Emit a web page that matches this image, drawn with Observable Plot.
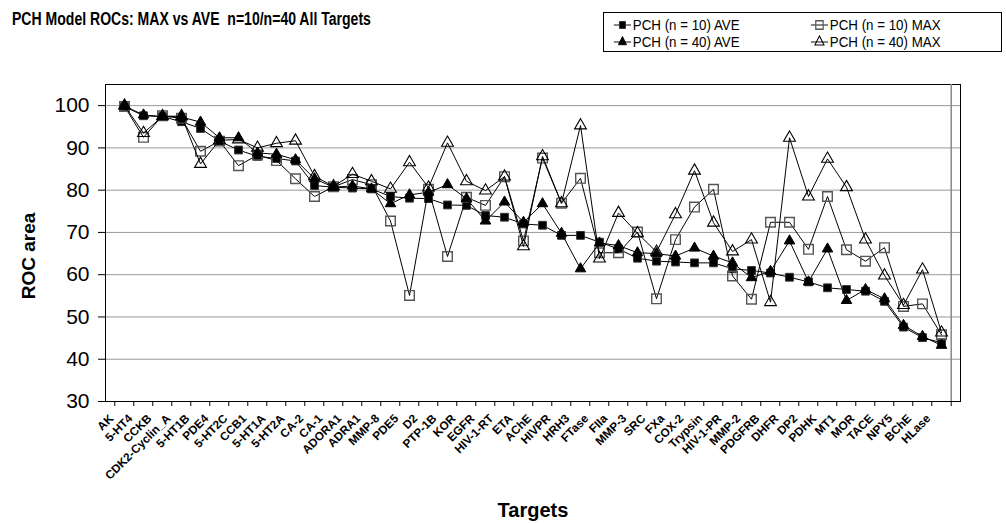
<!DOCTYPE html>
<html><head><meta charset="utf-8">
<script src="https://cdn.jsdelivr.net/npm/d3@7"></script>
<script src="https://cdn.jsdelivr.net/npm/@observablehq/plot@0.6"></script>
<style>
body{margin:0;background:#fff;font-family:Arial,"Liberation Sans",sans-serif;}
#wrap{position:relative;width:1006px;height:523px;overflow:hidden;}
#title{position:absolute;left:12px;top:9px;font-weight:bold;font-size:18px;font-family:Arial,"Liberation Sans",sans-serif;white-space:nowrap;transform:scaleX(0.78);transform-origin:0 0;}
#legend{position:absolute;left:603px;top:12px;width:399px;height:40px;border:1px solid #000;box-sizing:border-box;}
.li{position:absolute;display:flex;align-items:center;font-size:15.5px;white-space:nowrap;transform:scaleX(0.86);transform-origin:0 50%;}
.li svg{margin-right:1px;}
#ylab{position:absolute;left:29px;top:256px;transform:translate(-50%,-50%) rotate(-90deg);font-weight:bold;font-size:19px;white-space:nowrap;}
#xlab{position:absolute;left:533px;top:510px;transform:translate(-50%,-50%);font-weight:bold;font-size:20px;white-space:nowrap;}
</style>
</head><body>
<div id="wrap">
<div id="title">PCH Model ROCs: MAX vs AVE&nbsp; n=10/n=40 All Targets</div>
<div id="legend"></div>
<div id="ylab">ROC area</div>
<div id="xlab">Targets</div>
</div>
<script>
const targets = ["AK","5-HT4","CCKB","CDK2-Cyclin_A","5-HT1B","PDE4","5-HT2C","CCB1","5-HT1A","5-HT2A","CA-2","CA-1","ADORA1","ADRA1","MMP-8","PDE5","D2","PTP-1B","KOR","EGFR","HIV-1-RT","ETA","AChE","HIVPR","HRH3","FTase","FIIa","MMP-3","SRC","FXa","COX-2","Trypsin","HIV-1-PR","MMP-2","PDGFRB","DHFR","DP2","PDHK","MT1","MOR","TACE","NPY5","BChE","HLase"];

const ave10 = [99.8,97.6,97.4,96.2,94.6,91.6,89.5,88.0,87.5,86.9,81.1,80.7,80.5,80.3,78.5,78.1,78.0,76.5,76.4,74.0,73.6,72.0,71.7,69.3,69.3,67.7,66.1,63.9,63.2,63.0,62.8,62.8,61.4,61.0,60.4,59.4,58.3,56.9,56.5,56.1,53.7,47.6,45.1,43.9];
const max10 = [99.8,92.5,97.6,97.0,89.2,91.6,85.8,88.3,87.0,82.7,78.5,80.8,82.5,81.3,72.7,55.1,80.2,64.3,78.3,76.4,83.2,68.0,87.6,76.9,82.8,65.2,65.2,70.1,54.3,68.3,76.0,80.2,59.7,54.2,72.4,72.4,66.0,78.5,65.9,63.2,66.4,52.5,53.1,45.8];
const ave40 = [99.9,97.8,97.4,97.3,96.1,92.4,92.4,88.8,88.5,87.2,82.7,80.7,81.0,80.3,76.8,78.9,79.5,81.3,78.0,72.7,77.2,72.4,76.8,69.8,61.4,67.5,66.9,65.2,65.0,64.4,66.3,64.4,62.8,59.3,60.8,68.0,58.3,66.1,53.9,56.5,54.3,48.0,45.4,43.3];
const max40 = [100,93.5,97.5,97.5,86.2,91.8,92.0,90.0,91.1,91.7,83.3,80.9,83.8,82.1,80.3,86.6,80.6,91.2,82.1,79.9,83.2,66.7,88.0,76.9,95.3,63.8,74.6,69.8,65.4,74.3,84.6,72.3,65.5,68.3,53.5,92.4,78.5,87.4,80.7,68.3,59.8,52.8,61.2,46.3];

const seriesNames = ["PCH (n = 10) AVE","PCH (n = 10) MAX","PCH (n = 40) AVE","PCH (n = 40) MAX"];
const yTicks = [30,40,50,60,70,80,90,100];

const seriesValues = [ave10, max10, ave40, max40];
const styles = [
  {symbol:"square", fill:"#000", stroke:"#333", strokeWidth:1, r:4.4},
  {symbol:"square", fill:"none", stroke:"#555", strokeWidth:1.4, r:5.4},
  {symbol:"triangle", fill:"#000", stroke:"#000", strokeWidth:1, r:3.9},
  {symbol:"triangle", fill:"none", stroke:"#000", strokeWidth:1.1, r:4.4}
];
const rows = seriesNames.flatMap((s, k) => targets.map((t, i) => ({series: s, k, target: t, value: seriesValues[k][i]})));

const W = 1006, H = 523, mL = 105, mR = 46, mT = 84, mB = 122;
const step = (W - mL - mR) / targets.length;

const marks = [
  Plot.gridY(yTicks.filter(t => t > 30), {stroke: "#999", strokeOpacity: 1}),
  Plot.frame({stroke: "#000"}),
  Plot.ruleX([targets[targets.length - 1]], {dx: step / 2, stroke: "#888", strokeWidth: 1.5}),
  Plot.ruleX(targets, {x: d => d, y1: 30, y2: 28.8, dx: -step / 2, stroke: "#000"}),
  Plot.ruleX([targets[targets.length - 1]], {x: d => d, y1: 30, y2: 28.8, dx: step / 2, stroke: "#000"}),
  Plot.axisY({ticks: yTicks, tickSize: 7, tickPadding: 9, fontSize: 21, label: null}),
  Plot.axisX({tickSize: 0, tickRotate: -45, fontSize: 11.8, fontWeight: "bold", tickPadding: 5, dx: -13, dy: 10, label: null})
];
seriesNames.forEach((s, k) => {
  const data = rows.filter(d => d.k === k);
  marks.push(Plot.line(data, {x: "target", y: "value", stroke: "#000", strokeWidth: 1}));
  marks.push(Plot.dot(data, {x: "target", y: "value", ...styles[k]}));
});

const chart = Plot.plot({
  width: W, height: H,
  marginLeft: mL, marginRight: mR, marginTop: mT, marginBottom: mB,
  style: {fontFamily: "Arial, 'Liberation Sans', sans-serif", background: "transparent", color: "#000"},
  x: {type: "point", domain: targets, padding: 0.5},
  y: {domain: [30, 105]},
  marks
});
chart.style.position = "absolute";
chart.style.left = "0px";
chart.style.top = "0px";
document.getElementById("wrap").prepend(chart);

// legend
const legend = document.getElementById("legend");
const pos = [[9, 3], [206, 3], [9, 20], [206, 20]];
seriesNames.forEach((s, k) => {
  const st = styles[k];
  const div = document.createElement("div");
  div.className = "li";
  div.style.left = pos[k][0] + "px";
  div.style.top = pos[k][1] + "px";
  const sym = st.symbol === "square" ? d3.symbolSquare : d3.symbolTriangle;
  const path = d3.symbol(sym, Math.PI * st.r * st.r * 0.8)();
  div.innerHTML = `<svg width="22" height="16"><line x1="1" x2="21" y1="8" y2="8" stroke="#000"/><path transform="translate(11,8)" d="${path}" fill="${st.fill}" stroke="${st.stroke}" stroke-width="${st.strokeWidth}"/></svg><span>${s}</span>`;
  legend.appendChild(div);
});
</script>
</body></html>
